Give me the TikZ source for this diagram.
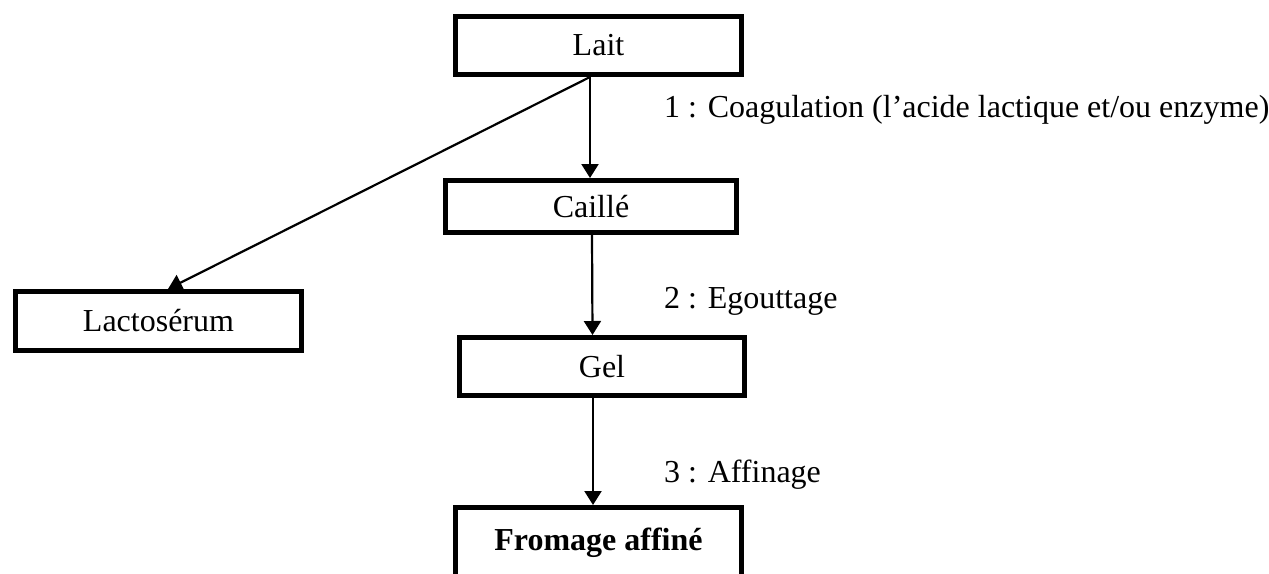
\documentclass[tikz,border=0pt]{standalone}
\usepackage{fontspec}
\setmainfont{Liberation Serif}
\usetikzlibrary{arrows.meta,calc}
\begin{document}
\begin{tikzpicture}[x=1pt,y=-1pt,
  box/.style={draw, line width=5pt, inner sep=0pt, font=\fontsize{32}{38}\selectfont},
  arr/.style={line width=2.2pt, -{Triangle[length=14pt,width=17pt]}},
  lab/.style={anchor=base west, inner sep=0pt, font=\fontsize{32}{38}\selectfont}]
\useasboundingbox (0,0) rectangle (1269,573);
\clip (0,0) rectangle (1269,573);
\node[box, minimum width=286pt, minimum height=58pt] (lait) at (598.5,45.5) {Lait};
\node[box, minimum width=291pt, minimum height=52pt] (caille) at (591,206.5) {Caillé};
\node[box, minimum width=286pt, minimum height=59pt] (lacto) at (158.5,321) {Lactosérum};
\node[box, minimum width=285pt, minimum height=58pt] (gel) at (602,366.5) {Gel};
\node[box, minimum width=286pt, minimum height=72pt] (fromage) at (598.5,543.5) {};
\node[font=\fontsize{32}{38}\selectfont\bfseries, anchor=base, inner sep=0pt] (fromagetxt) at (598.5,550) {Fromage affiné};
\node[lab] (lab1) at (664,117) {1 : Coagulation (l’acide lactique et/ou enzyme)};
\node[lab] (lab2) at (664,308) {2 : Egouttage};
\node[lab] (lab3) at (664,482) {3 : Affinage};
\draw[arr] ([xshift=-8.5pt]lait.south) -- ([xshift=-8.5pt]lait.south |- caille.north);
\draw[arr] ([xshift=-8.5pt]lait.south) -- ([xshift=9.5pt]lacto.north);
\draw[arr] ([xshift=1pt]caille.south) -- ([xshift=1.5pt]caille.south |- gel.north);
\draw[arr] ([xshift=-9pt]gel.south) -- ([xshift=-9pt]gel.south |- fromage.north);
\end{tikzpicture}
\end{document}
